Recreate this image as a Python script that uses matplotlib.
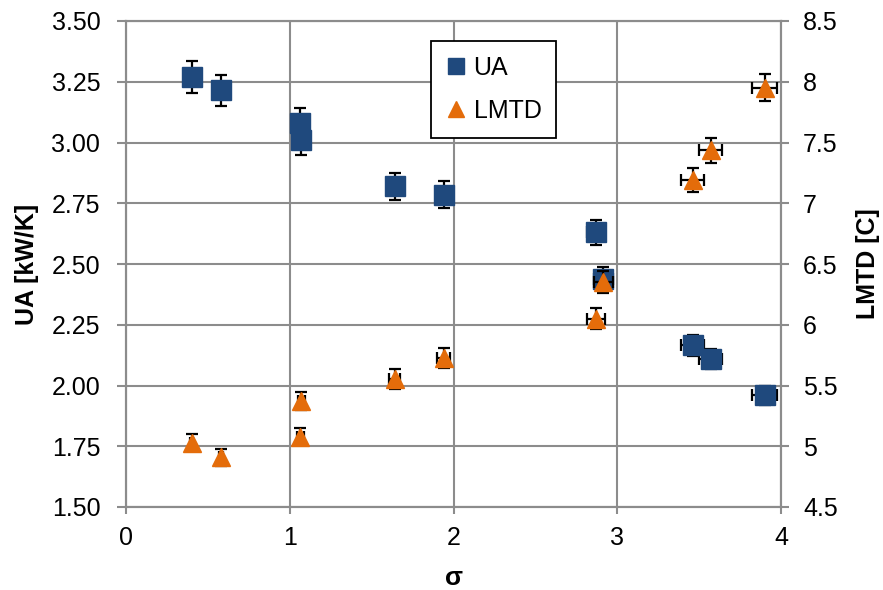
import matplotlib
matplotlib.use("Agg")
import matplotlib.pyplot as plt
from matplotlib.lines import Line2D
from matplotlib.ticker import FormatStrFormatter, FuncFormatter

plt.rcParams['font.family'] = ['Liberation Sans', 'DejaVu Sans']

# ---- data ----
sigma = [0.40, 0.58, 1.065, 1.07, 1.64, 1.94, 2.87, 2.915, 3.46, 3.57, 3.90]
sigma_err = [0.008, 0.012, 0.021, 0.021, 0.033, 0.039, 0.057, 0.058, 0.069, 0.071, 0.078]
ua = [3.27, 3.215, 3.08, 3.01, 2.82, 2.785, 2.63, 2.44, 2.165, 2.11, 1.96]
ua_err = [0.065, 0.064, 0.062, 0.060, 0.056, 0.056, 0.053, 0.049, 0.043, 0.042, 0.039]
lmtd = [5.03, 4.91, 5.08, 5.37, 5.555, 5.725, 6.05, 6.355, 7.19, 7.435, 7.95]
lmtd_err = [0.07, 0.07, 0.07, 0.075, 0.08, 0.08, 0.085, 0.09, 0.10, 0.105, 0.11]

x_ticks = [0, 1, 2, 3, 4]
ua_ticks = [1.50, 1.75, 2.00, 2.25, 2.50, 2.75, 3.00, 3.25, 3.50]
lmtd_ticks = [4.5, 5, 5.5, 6, 6.5, 7, 7.5, 8, 8.5]

ua_color = '#1F497D'
lmtd_color = '#E46C0A'
grid_color = '#8C8C8C'

fig = plt.figure(figsize=(8.83, 5.90), dpi=100)
ax = fig.add_axes([126/883, 1 - 507/590, (781-126)/883, (507-21)/590])
ax2 = ax.twinx()

ax.errorbar(sigma, ua, yerr=ua_err, xerr=sigma_err, fmt='s', color=ua_color,
            markersize=14, ecolor='black', elinewidth=1.6, capsize=4.5,
            capthick=1.6, zorder=3)
ax2.errorbar(sigma, lmtd, yerr=lmtd_err, xerr=sigma_err, fmt='^', color=lmtd_color,
             markersize=13, ecolor='black', elinewidth=1.6, capsize=4.5,
             capthick=1.6, zorder=3)

ax.set_xlim(0, 4)
ax.set_ylim(1.5, 3.5)
ax2.set_ylim(4.5, 8.5)
ax.set_xticks(x_ticks)
ax.set_yticks(ua_ticks)
ax2.set_yticks(lmtd_ticks)
ax.yaxis.set_major_formatter(FormatStrFormatter('%.2f'))
ax2.yaxis.set_major_formatter(FuncFormatter(lambda v, p: ('%g' % v)))

ax.grid(True, color=grid_color, linewidth=1.5)
ax.set_axisbelow(True)
for a in (ax, ax2):
    for s in a.spines.values():
        s.set_color(grid_color)
        s.set_linewidth(1.5)
ax.tick_params(axis='y', direction='out', length=6.5, width=1.5, color=grid_color,
               labelsize=18, pad=12)
ax.tick_params(axis='x', direction='out', length=5, width=1.5, color=grid_color,
               labelsize=18, pad=9)
ax2.tick_params(axis='y', direction='out', length=6, width=1.5, color=grid_color,
                labelsize=18, pad=10)

ax.set_xlabel('σ', fontsize=19, fontweight='bold', labelpad=11)
ax.set_ylabel('UA [kW/K]', fontsize=18, fontweight='bold', labelpad=9)
ax2.set_ylabel('LMTD [C]', fontsize=18, fontweight='bold', labelpad=13)

handles = [Line2D([], [], marker='s', linestyle='none', color=ua_color, markersize=11),
           Line2D([], [], marker='^', linestyle='none', color=lmtd_color, markersize=11)]
leg = ax2.legend(handles, ['UA', 'LMTD'], loc='upper left',
                 bbox_to_anchor=((431-126)/655, (507-41)/486), borderaxespad=0,
                 fontsize=18, frameon=True, fancybox=False, framealpha=1,
                 edgecolor='black', handlelength=0.8, handletextpad=0.3,
                 labelspacing=0.75, borderpad=0.6)
leg.get_frame().set_linewidth(1.3)

fig.savefig('out.png', dpi=100)
